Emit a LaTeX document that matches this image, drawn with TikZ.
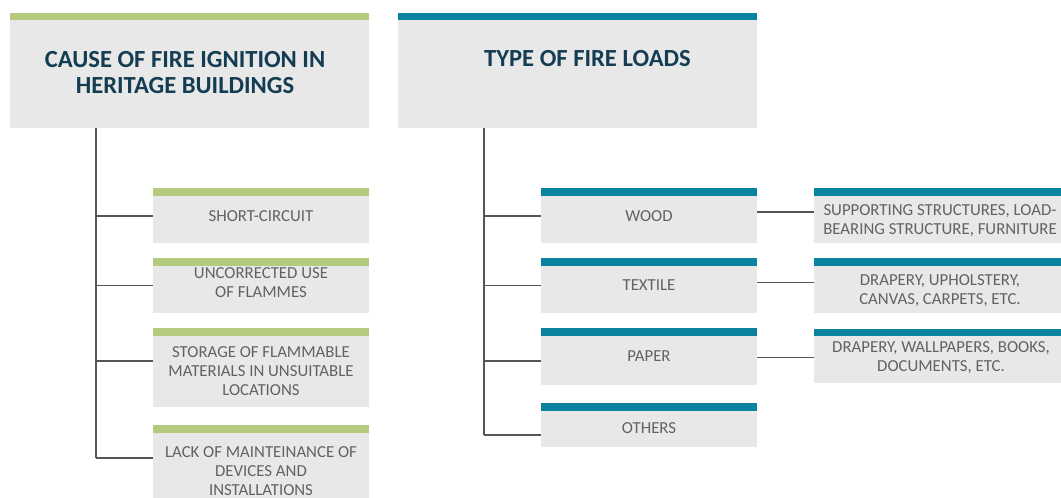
\documentclass[tikz,border=0pt]{standalone}
\usepackage{fontspec}
\setmainfont{Carlito}
\definecolor{barGreen}{HTML}{B4CB7E}
\definecolor{barTeal}{HTML}{0B829F}
\definecolor{boxGray}{HTML}{E8E8E8}
\definecolor{titleNavy}{HTML}{143D53}
\definecolor{bodyGray}{HTML}{626262}
\definecolor{lineGray}{HTML}{555555}
\begin{document}
\begin{tikzpicture}[x=1pt,y=-1pt,
  panel/.style={fill=boxGray, draw=none, inner sep=0pt, outer sep=0pt, anchor=north west},
  greenpanel/.style={panel, path picture={\fill[barGreen] (path picture bounding box.north west) rectangle ([yshift=-7.5pt]path picture bounding box.north east);}},
  tealpanel/.style={panel, path picture={\fill[barTeal] (path picture bounding box.north west) rectangle ([yshift=-7.5pt]path picture bounding box.north east);}},
  titletext/.style={font=\bfseries\fontsize{24.6}{26.5}\selectfont, text=titleNavy, align=center, inner sep=0pt},
  bodytext/.style={font=\fontsize{16.8}{19}\selectfont, text=bodyGray, align=center, inner sep=0pt},
  link/.style={draw=lineGray, line width=1.3pt}
]
\useasboundingbox (0,0) rectangle (1061,498);
\clip (0,0) rectangle (1061,498);
\fill[white] (0,0) rectangle (1061,498);

% headers
\node[greenpanel, minimum width=359pt, minimum height=115pt] (h1) at (10,12.5) {};
\node[tealpanel, minimum width=359pt, minimum height=115pt] (h2) at (398,12.5) {};
\node[titletext] (t1) at (185,72.5) {CAUSE OF FIRE IGNITION IN\\HERITAGE BUILDINGS};
\node[titletext] (t2) at (587.5,59) {TYPE OF FIRE LOADS};

% left column boxes
\node[greenpanel, minimum width=216pt, minimum height=55pt] (c1) at (153,188) {};
\node[greenpanel, minimum width=216pt, minimum height=54.5pt] (c2) at (153,258) {};
\node[greenpanel, minimum width=216pt, minimum height=79pt] (c3) at (153,328) {};
\node[greenpanel, minimum width=216pt, minimum height=85pt] (c4) at (153,425) {};
\node[bodytext] (c1t) at (261,216.5) {SHORT-CIRCUIT};
\node[bodytext] (c2t) at (261,283) {UNCORRECTED USE\\OF FLAMMES};
\node[bodytext] (c3t) at (261,371.5) {STORAGE OF FLAMMABLE\\MATERIALS IN UNSUITABLE\\LOCATIONS};
\node[bodytext] (c4t) at (261,471) {LACK OF MAINTEINANCE OF\\DEVICES AND\\INSTALLATIONS};

% middle column boxes
\node[tealpanel, minimum width=216pt, minimum height=55pt] (m1) at (541,188) {};
\node[tealpanel, minimum width=216pt, minimum height=55pt] (m2) at (541,258) {};
\node[tealpanel, minimum width=216pt, minimum height=57pt] (m3) at (541,328) {};
\node[tealpanel, minimum width=216pt, minimum height=44pt] (m4) at (541,403) {};
\node[bodytext] (m1t) at (649,216.5) {WOOD};
\node[bodytext] (m2t) at (649,285) {TEXTILE};
\node[bodytext] (m3t) at (649,356) {PAPER};
\node[bodytext] (m4t) at (649,428) {OTHERS};

% right column boxes
\node[tealpanel, minimum width=254pt, minimum height=55pt] (r1) at (814,188) {};
\node[tealpanel, minimum width=254pt, minimum height=54.5pt] (r2) at (814,258) {};
\node[tealpanel, minimum width=254pt, minimum height=54pt] (r3) at (814,328.5) {};
\node[bodytext] (r1t) at (940,221) {SUPPORTING STRUCTURES, LOAD-\\BEARING STRUCTURE, FURNITURE};
\node[bodytext] (r2t) at (940,291) {DRAPERY, UPHOLSTERY,\\CANVAS, CARPETS, ETC.};
\node[bodytext] (r3t) at (941,358) {DRAPERY, WALLPAPERS, BOOKS,\\DOCUMENTS, ETC.};

% left tree
\coordinate (lt) at (96,127.5);
\coordinate (lb) at (96,458);
\draw[link] (lt) -- (lb);
\draw[link] (96,216) -- (c1.west |- 0,216);
\draw[link] (96,285.5) -- (c2.west |- 0,285.5);
\draw[link] (96,361) -- (c3.west |- 0,361);
\draw[link] (lb) -- (c4.west |- lb);

% middle tree
\coordinate (mt) at (484,127.5);
\coordinate (mb) at (484,435);
\draw[link] (mt) -- (mb);
\draw[link] (484,216) -- (m1.west |- 0,216);
\draw[link] (484,285.5) -- (m2.west |- 0,285.5);
\draw[link] (484,361) -- (m3.west |- 0,361);
\draw[link] (mb) -- (m4.west |- mb);

% cross links
\draw[link] (m1.east |- 0,212) -- (r1.west |- 0,212);
\draw[link] (m2.east |- 0,282.5) -- (r2.west |- 0,282.5);
\draw[link] (m3.east |- 0,357.5) -- (r3.west |- 0,357.5);
\end{tikzpicture}
\end{document}
